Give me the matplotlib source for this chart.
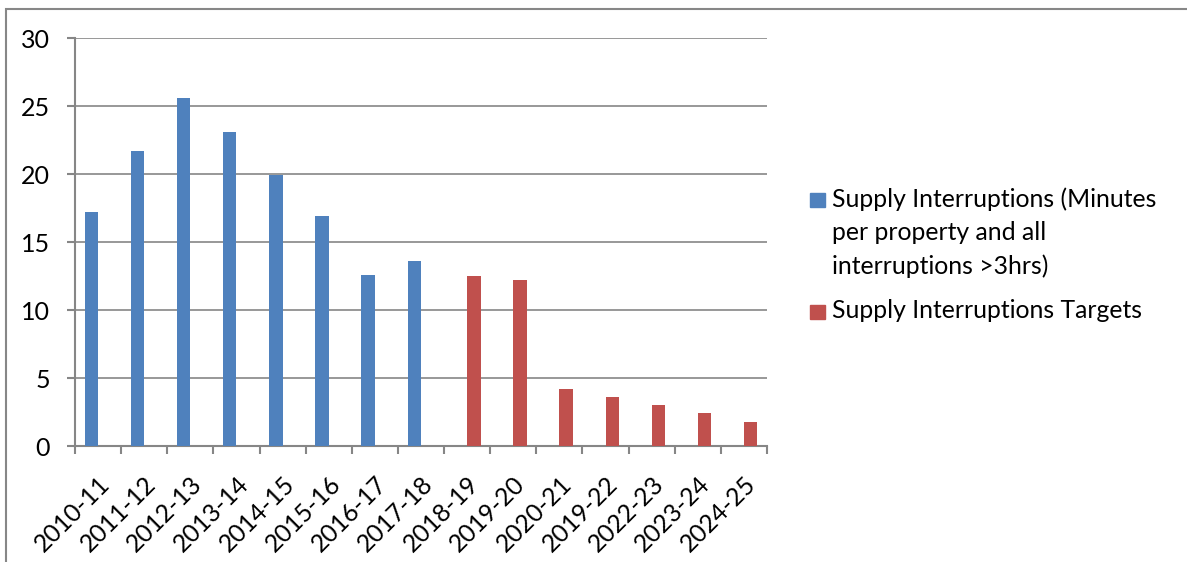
import matplotlib
matplotlib.use('Agg')

import matplotlib.pyplot as plt
from matplotlib.patches import Rectangle
import numpy as np

plt.rcParams['font.family'] = ['Lato', 'DejaVu Sans']

# ---- data
years = ['2010-11', '2011-12', '2012-13', '2013-14', '2014-15', '2015-16',
         '2016-17', '2017-18', '2018-19', '2019-20', '2020-21', '2019-22',
         '2022-23', '2023-24', '2024-25']
actual = [17.2, 21.7, 25.6, 23.1, 19.9, 16.9, 12.6, 13.6,
          np.nan, np.nan, np.nan, np.nan, np.nan, np.nan, np.nan]
targets = [np.nan, np.nan, np.nan, np.nan, np.nan, np.nan, np.nan, np.nan,
           12.5, 12.2, 4.2, 3.6, 3.0, 2.4, 1.8]
series_names = ['Supply Interruptions (Minutes\nper property and all\ninterruptions >3hrs)',
                'Supply Interruptions Targets']

BLUE = '#4f81bd'
RED = '#c0504d'
GRID = '#868686'

W, H = 1187, 562
fig = plt.figure(figsize=(W / 100, H / 100), dpi=100)
fig.patch.set_facecolor('white')

# chart-area border (only top and left visible in the crop)
fig.add_artist(Rectangle((6 / W, -0.1), 1.2, 1.1 - 9 / H,
                         transform=fig.transFigure, fill=False,
                         edgecolor='#878787', linewidth=1.5))

ax = fig.add_axes([75 / W, 1 - 446 / H, (767 - 75) / W, (446 - 38) / H])

x = np.arange(len(years))
bw = 0.29
ax.bar(x - bw / 2, actual, width=bw, color=BLUE, zorder=3)
ax.bar(x + bw / 2, targets, width=bw, color=RED, zorder=3)

ax.set_xlim(-0.5, len(years) - 0.5)
ax.set_ylim(0, 30)
ax.set_yticks(range(0, 31, 5))
ax.yaxis.grid(True, color=GRID, linewidth=1.2, zorder=0)

for side in ['top', 'right']:
    ax.spines[side].set_visible(False)
for side in ['left', 'bottom']:
    ax.spines[side].set_color(GRID)
    ax.spines[side].set_linewidth(1.5)

ax.set_xticks(x)
ax.set_xticklabels(years, rotation=45, ha='right', va='top',
                   rotation_mode='anchor', fontsize=17.8)
ax.set_xticks(np.arange(-0.5, len(years), 1), minor=True)
ax.tick_params(axis='x', which='major', length=0, pad=19)
ax.tick_params(axis='x', which='minor', length=6, width=1.5, color=GRID)
ax.tick_params(axis='y', length=6, width=1.5, color=GRID, labelsize=18, pad=12)

# legend drawn by hand so the swatch sits on the first text line
swatches = [BLUE, RED]
text_y = [200, 312]
for name, col, ty in zip(series_names, swatches, text_y):
    fig.add_artist(Rectangle((810 / W, 1 - (ty + 7) / H), 15 / W, 14 / H,
                             transform=fig.transFigure, color=col))
    fig.text(832 / W, 1 - (ty - 13) / H, name, fontsize=17.8, va='top',
             ha='left', linespacing=1.55)

fig.savefig('out.png', dpi=100)
